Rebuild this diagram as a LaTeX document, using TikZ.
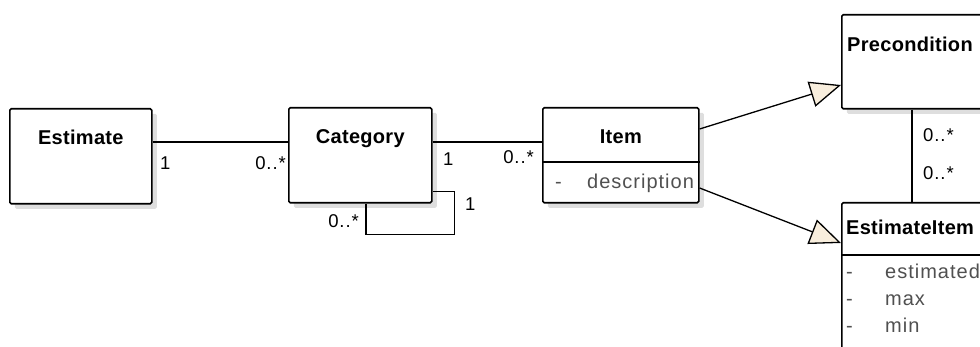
\documentclass[tikz,border=0pt]{standalone}
\usepackage{fontspec}
\setmainfont{Liberation Sans}
\newfontfamily\umlfont[LetterSpace=5]{Liberation Sans}
\newfontfamily\umlname[LetterSpace=1.5]{Liberation Sans}
\usetikzlibrary{positioning,shadows,arrows.meta}

\definecolor{cream}{HTML}{F8EEDD}
\definecolor{attrgray}{HTML}{505050}

\tikzset{
  cls/.style = {draw, line width=1.6pt, fill=white, rounded corners=1.5pt, anchor=north west, inner sep=0pt,
    drop shadow={shadow xshift=5pt, shadow yshift=-5pt, fill=black!13, opacity=1}},
  cname/.style = {inner sep=0pt, font=\umlname\bfseries\fontsize{20}{24}\selectfont},
  attr/.style = {inner sep=0pt, anchor=base west, text=attrgray, font=\umlfont\fontsize{20}{24}\selectfont},
  mult/.style = {inner sep=0pt, font=\umlfont\fontsize{18.5}{22}\selectfont},
  assoc/.style = {line width=1.3pt},
  gen/.style = {line width=1.3pt, -{Triangle[length=31pt, width=26pt, fill=cream, line width=1.3pt]}}
}

\begin{document}
\begin{tikzpicture}[x={(1pt,0pt)}, y={(0pt,-1pt)}]
\useasboundingbox (0,0) rectangle (980,347);
\clip (0,0) rectangle (980,347);

% classes
\node[cls, minimum width=142pt, minimum height=95pt] (est) at (9,108) {};
\node[cls, minimum width=143pt, minimum height=95pt] (cat) at (288,107) {};
\node[cls, minimum width=156pt, minimum height=95pt] (item) at (542,107) {};
\node[cls, minimum width=170pt, minimum height=94pt] (pre) at (841,14) {};
\node[cls, minimum width=170pt, minimum height=170pt] (ei) at (841,202) {};

\node[cname, below=22pt of est.north] (estname) {Estimate};
\node[cname, below=22pt of cat.north] (catname) {Category};
\node[cname, below=23pt of item.north] (itemname) {Item};
\node[cname, anchor=north west] (prename) at (847,37) {Precondition};
\node[cname, anchor=north west] (einame) at (846,220) {EstimateItem};

% compartments
\draw[line width=1.3pt] ([yshift=-55pt]item.north west) -- ([yshift=-55pt]item.north east);
\draw[line width=1.3pt] ([yshift=-53pt]ei.north west) -- ([yshift=-53pt]ei.north east);

\node[attr] (d1) at (555,189) {-};
\node[attr] (d2) at (587,189) {description};
\node[attr] (e1) at (846,279) {-};
\node[attr] (e2) at (885,279) {estimated};
\node[attr] (m1) at (846,306) {-};
\node[attr] (m2) at (885,306) {max};
\node[attr] (n1) at (846,333) {-};
\node[attr] (n2) at (885,333) {min};

% associations
\draw[assoc] ([yshift=-34pt]est.north east) -- ([yshift=-35pt]cat.north west);
\draw[assoc] ([yshift=-35pt]cat.north east) -- ([yshift=-35pt]item.north west);
\draw[assoc] ([xshift=78pt]cat.south west) -- ++(0,31) -| ([xshift=22pt,yshift=12pt]cat.south east) -- ([yshift=12pt]cat.south east);
\draw[assoc] ([xshift=71pt]pre.south west) -- ([xshift=71pt]ei.north west);

% generalisations
\draw[gen] ([yshift=-22pt]item.north east) -- ([yshift=-71pt]pre.north west);
\draw[gen] ([yshift=-81pt]item.north east) -- ([yshift=-41pt]ei.north west);

% multiplicities
\node[mult, anchor=base west] (m-est) at (160,170) {1};
\node[mult, anchor=base east] (m-cat1) at (286,170) {0..*};
\node[mult, anchor=base west] (m-cat2) at (443,166) {1};
\node[mult, anchor=base east] (m-item) at (534,164) {0..*};
\node[mult, anchor=base west] (m-loop1) at (465,211) {1};
\node[mult, anchor=base east] (m-loop2) at (359,228) {0..*};
\node[mult, anchor=base west] (m-pre) at (923,142) {0..*};
\node[mult, anchor=base west] (m-ei) at (923,180) {0..*};
\end{tikzpicture}
\end{document}
